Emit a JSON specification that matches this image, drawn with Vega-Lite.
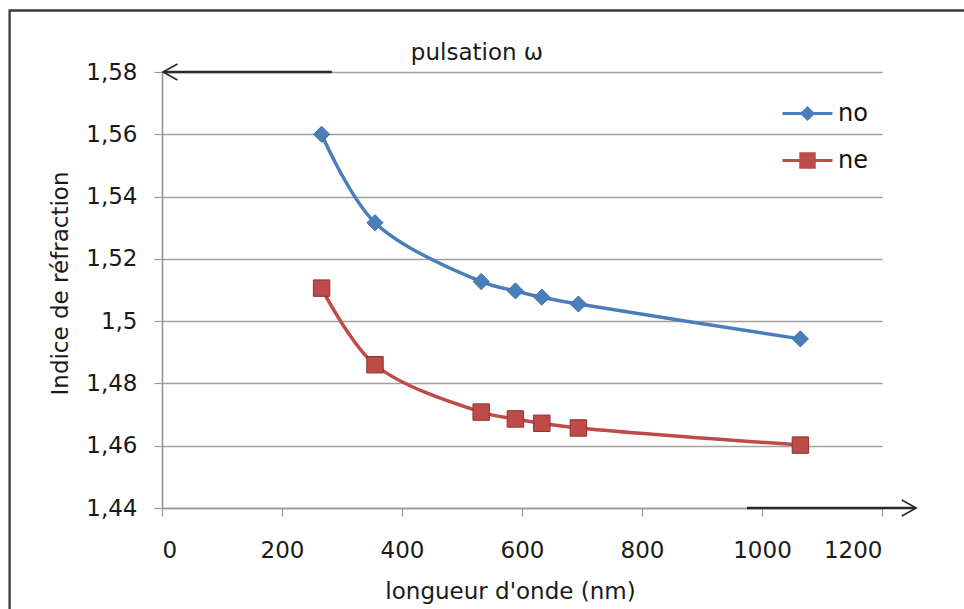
{
  "$schema": "https://vega.github.io/schema/vega-lite/v6.json",
  "width": 720,
  "height": 436,
  "autosize": {"type": "none"},
  "padding": {"left": 162, "top": 72, "right": 82, "bottom": 101},
  "background": "white",
  "config": {
    "view": {"stroke": null},
    "font": "DejaVu Sans, sans-serif"
  },
  "datasets": {
    "series": [
      {"wl": 266, "n": 1.5600, "series": "no"},
      {"wl": 355, "n": 1.5316, "series": "no"},
      {"wl": 532, "n": 1.5127, "series": "no"},
      {"wl": 589, "n": 1.5097, "series": "no"},
      {"wl": 633, "n": 1.5077, "series": "no"},
      {"wl": 694, "n": 1.5055, "series": "no"},
      {"wl": 1064, "n": 1.4943, "series": "no"},
      {"wl": 266, "n": 1.5106, "series": "ne"},
      {"wl": 355, "n": 1.4860, "series": "ne"},
      {"wl": 532, "n": 1.4708, "series": "ne"},
      {"wl": 589, "n": 1.4686, "series": "ne"},
      {"wl": 633, "n": 1.4672, "series": "ne"},
      {"wl": 694, "n": 1.4657, "series": "ne"},
      {"wl": 1064, "n": 1.4602, "series": "ne"}
    ],
    "arrows": [
      {"x1": 2, "x2": 283, "y": 1.58},
      {"x1": 975, "x2": 1256, "y": 1.44}
    ],
    "headLeft": [{"x": 1.7, "y": 1.58}],
    "headRight": [{"x": 1257, "y": 1.44}],
    "frame": [{"x1": -254, "x2": 1500, "y1": 1.59975, "y2": 1.30}],
    "note": [{"x": 525, "y": 1.5839, "text": "pulsation ω"}]
  },
  "layer": [
    {
      "data": {"name": "series"},
      "mark": {"type": "line", "interpolate": "catmull-rom", "strokeWidth": 3.5},
      "encoding": {
        "x": {
          "field": "wl", "type": "quantitative",
          "scale": {"domain": [0, 1200], "nice": false, "zero": false},
          "axis": {
            "values": [0, 200, 400, 600, 800, 1000, 1200],
            "format": "d",
            "grid": false,
            "domainColor": "#9a9a9a", "domainWidth": 1.7,
            "tickColor": "#9a9a9a", "tickSize": 8, "tickWidth": 1.2,
            "labelFontSize": 23, "labelColor": "#1a1a1a", "labelPadding": 23,
            "title": "longueur d'onde (nm)", "titleFontSize": 23, "titleFontWeight": "normal",
            "titleColor": "#1a1a1a", "titlePadding": 18, "titleX": 348
          }
        },
        "y": {
          "field": "n", "type": "quantitative",
          "scale": {"domain": [1.44, 1.58], "nice": false, "zero": false},
          "axis": {
            "values": [1.44, 1.46, 1.48, 1.5, 1.52, 1.54, 1.56, 1.58],
            "labelExpr": "replace(format(datum.value, '.2~f'), '.', ',')",
            "grid": true, "gridColor": "#a0a0a0", "gridWidth": 1.7,
            "domainColor": "#9a9a9a", "domainWidth": 1.7,
            "tickColor": "#9a9a9a", "tickSize": 8, "tickWidth": 1.2,
            "labelFontSize": 23, "labelColor": "#1a1a1a", "labelPadding": 17,
            "title": "Indice de réfraction", "titleFontSize": 23, "titleFontWeight": "normal",
            "titleColor": "#1a1a1a", "titlePadding": 13, "titleY": 211
          }
        },
        "color": {
          "field": "series", "type": "nominal",
          "scale": {"domain": ["no", "ne"], "range": ["#4a7ebb", "#be4b48"]},
          "legend": {
            "title": null, "orient": "none", "legendX": 619, "legendY": 15,
            "padding": 0, "rowPadding": 8, "symbolSize": 2500, "labelOffset": 4,
            "labelFontSize": 24, "labelColor": "#111111",
            "encode": {
              "symbols": {
                "update": {
                  "shape": {"signal": "datum.value === 'no' ? 'M-1,0L1,0M-0.22,0L0,-0.22L0.22,0L0,0.22Z' : 'M-1,0L1,0M-0.27,-0.27L0.27,-0.27L0.27,0.27L-0.27,0.27Z'"},
                  "stroke": {"signal": "datum.value === 'no' ? '#4a7ebb' : '#be4b48'"},
                  "fill": {"signal": "datum.value === 'no' ? '#4a7ebb' : '#be4b48'"},
                  "strokeWidth": {"value": 3},
                  "opacity": {"value": 1}
                }
              }
            }
          }
        }
      }
    },
    {
      "data": {"name": "frame"},
      "mark": {"type": "rect", "fill": "transparent", "stroke": "#3a3a3a", "strokeWidth": 2.3},
      "encoding": {
        "x": {"field": "x1", "type": "quantitative", "scale": {"domain": [0, 1200], "nice": false, "zero": false}},
        "x2": {"field": "x2"},
        "y": {"field": "y1", "type": "quantitative", "scale": {"domain": [1.44, 1.58], "nice": false, "zero": false}},
        "y2": {"field": "y2"}
      }
    },
    {
      "data": {"name": "series"},
      "transform": [{"filter": "datum.series === 'no'"}],
      "mark": {"type": "point", "filled": true, "opacity": 1, "shape": "diamond", "size": 260, "color": "#4a7ebb", "stroke": "#3f6fa8", "strokeWidth": 1},
      "encoding": {
        "x": {"field": "wl", "type": "quantitative", "scale": {"domain": [0, 1200], "nice": false, "zero": false}},
        "y": {"field": "n", "type": "quantitative", "scale": {"domain": [1.44, 1.58], "nice": false, "zero": false}}
      }
    },
    {
      "data": {"name": "series"},
      "transform": [{"filter": "datum.series === 'ne'"}],
      "mark": {"type": "point", "filled": true, "opacity": 1, "shape": "square", "size": 270, "color": "#be4b48", "stroke": "#8a3330", "strokeWidth": 1},
      "encoding": {
        "x": {"field": "wl", "type": "quantitative", "scale": {"domain": [0, 1200], "nice": false, "zero": false}},
        "y": {"field": "n", "type": "quantitative", "scale": {"domain": [1.44, 1.58], "nice": false, "zero": false}}
      }
    },
    {
      "data": {"name": "arrows"},
      "mark": {"type": "rule", "color": "#2a2a2a", "strokeWidth": 2.5},
      "encoding": {
        "x": {"field": "x1", "type": "quantitative", "scale": {"domain": [0, 1200], "nice": false, "zero": false}},
        "x2": {"field": "x2"},
        "y": {"field": "y", "type": "quantitative", "scale": {"domain": [1.44, 1.58], "nice": false, "zero": false}}
      }
    },
    {
      "data": {"name": "headLeft"},
      "mark": {"type": "point", "shape": "M1.8,-1L0,0L1.8,1", "filled": false, "color": "#2a2a2a", "strokeWidth": 1.6, "size": 256, "opacity": 1},
      "encoding": {
        "x": {"field": "x", "type": "quantitative", "scale": {"domain": [0, 1200], "nice": false, "zero": false}},
        "y": {"field": "y", "type": "quantitative", "scale": {"domain": [1.44, 1.58], "nice": false, "zero": false}}
      }
    },
    {
      "data": {"name": "headRight"},
      "mark": {"type": "point", "shape": "M-1.8,-1L0,0L-1.8,1", "filled": false, "color": "#2a2a2a", "strokeWidth": 1.6, "size": 256, "opacity": 1},
      "encoding": {
        "x": {"field": "x", "type": "quantitative", "scale": {"domain": [0, 1200], "nice": false, "zero": false}},
        "y": {"field": "y", "type": "quantitative", "scale": {"domain": [1.44, 1.58], "nice": false, "zero": false}}
      }
    },
    {
      "data": {"name": "note"},
      "mark": {"type": "text", "fontSize": 23, "color": "#1a1a1a", "align": "center", "baseline": "alphabetic"},
      "encoding": {
        "x": {"field": "x", "type": "quantitative", "scale": {"domain": [0, 1200], "nice": false, "zero": false}},
        "y": {"field": "y", "type": "quantitative", "scale": {"domain": [1.44, 1.58], "nice": false, "zero": false}},
        "text": {"field": "text"}
      }
    }
  ]
}
